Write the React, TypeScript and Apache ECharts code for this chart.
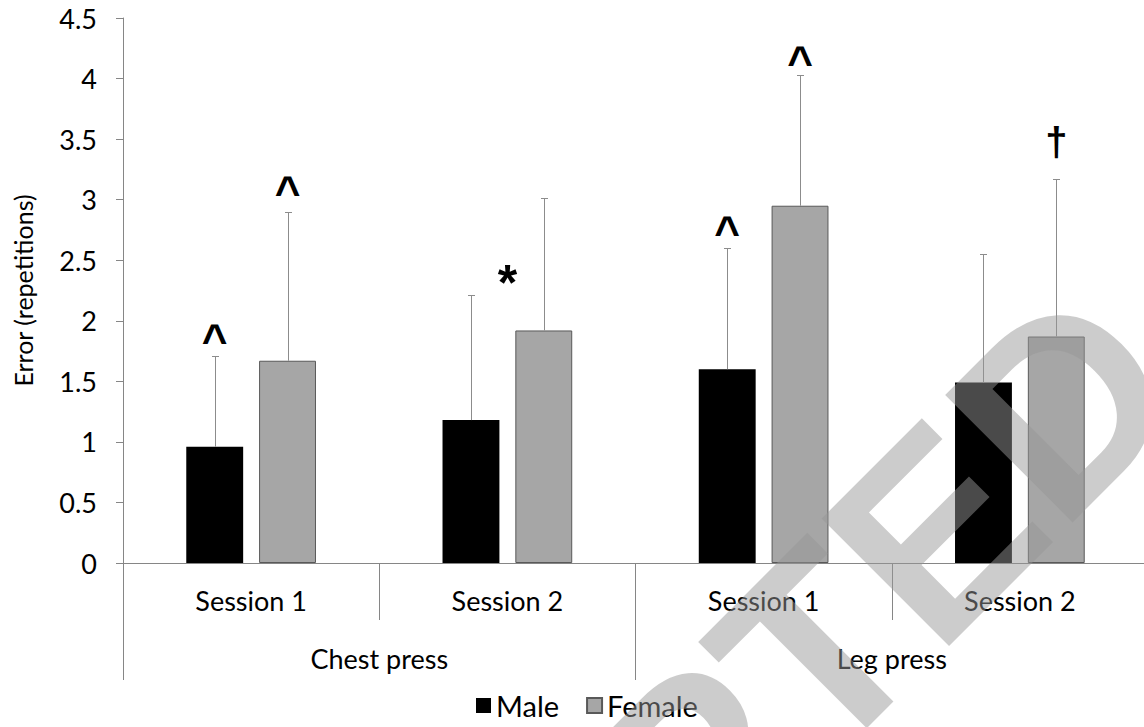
import React, { useEffect, useRef } from "react";
import * as echarts from "echarts";

// ---- data ----
const sessions = ["Session 1", "Session 2", "Session 1", "Session 2"];
const exercises = ["Chest press", "Leg press"];
const seriesNames = ["Male", "Female"];
const maleMean = [0.96, 1.18, 1.6, 1.49];
const maleSD = [0.75, 1.03, 1.0, 1.06];
const femaleMean = [1.67, 1.92, 2.95, 1.87];
const femaleSD = [1.23, 1.09, 1.08, 1.3];
const yMin = 0;
const yMax = 4.5;
const yStep = 0.5;
// significance marks: category, side (-1 male, 1 female, 0 centre), value, text
const markCategory = [0, 0, 1, 2, 2, 3];
const markSide = [-1, 1, 0, -1, 1, 1];
const markValue = [1.91, 3.13, 2.39, 2.8, 4.21, 3.46];
const markText = ["^", "^", "*", "^", "^", "\u2020"];
const watermarkText = "ACCEPTED";

const FONT = "Lato";
const BAR_W = 0.222;
const BAR_GAP = 0.28;
const OFFSET = (BAR_W * (1 + BAR_GAP)) / 2;

export default function App() {
  const ref = useRef<HTMLDivElement>(null);
  useEffect(() => {
    document.body.style.margin = "0";
    const chart = echarts.init(ref.current!, null, { renderer: "svg" });
    const errData: number[][] = [];
    maleMean.forEach((m, i) => errData.push([i, m, m + maleSD[i], -1]));
    femaleMean.forEach((m, i) => errData.push([i, m, m + femaleSD[i], 1]));
    const markData = markCategory.map((c, i) => [c, markValue[i], markSide[i]]);
    const axisGray = "#868686";

    chart.setOption({
      animation: false,
      grid: { left: 123, top: 18, width: 1025, height: 545, containLabel: false, outerBoundsMode: "none" },
      legend: {
        data: seriesNames,
        left: 471,
        top: 686,
        icon: "rect",
        itemWidth: 15,
        itemHeight: 15,
        itemGap: 27,
        textStyle: { fontFamily: FONT, fontSize: 29, color: "#000" },
      },
      xAxis: [
        {
          type: "category",
          data: sessions,
          position: "bottom",
          axisLine: { show: true, lineStyle: { color: axisGray, width: 1 } },
          axisTick: { show: true, interval: 0, length: 57, lineStyle: { color: axisGray } },
          axisLabel: { interval: 0, margin: 24, fontFamily: FONT, fontSize: 27, color: "#000" },
        },
        {
          type: "category",
          data: exercises,
          position: "bottom",
          axisLine: { show: false },
          axisTick: { show: true, interval: 0, length: 117, lineStyle: { color: axisGray } },
          axisLabel: { interval: 0, margin: 82, fontFamily: FONT, fontSize: 27, color: "#000" },
        },
      ],
      yAxis: {
        type: "value",
        min: yMin,
        max: yMax,
        interval: yStep,
        name: "Error (repetitions)",
        nameLocation: "middle",
        nameGap: 88,
        nameTextStyle: { fontFamily: FONT, fontSize: 25, color: "#000" },
        axisLine: { show: true, lineStyle: { color: axisGray } },
        axisTick: { show: true, length: 7, lineStyle: { color: axisGray } },
        splitLine: { show: false },
        axisLabel: { margin: 26, fontFamily: FONT, fontSize: 27, color: "#000" },
      },
      series: [
        {
          name: seriesNames[0],
          type: "bar",
          data: maleMean,
          barWidth: BAR_W * 100 + "%",
          barGap: BAR_GAP * 100 + "%",
          itemStyle: { color: "#000000" },
        },
        {
          name: seriesNames[1],
          type: "bar",
          data: femaleMean,
          barWidth: BAR_W * 100 + "%",
          barGap: BAR_GAP * 100 + "%",
          itemStyle: { color: "#a6a6a6", borderColor: "#595959", borderWidth: 1 },
        },
        {
          type: "custom",
          name: "err",
          data: errData,
          encode: { x: 0, y: [1, 2] },
          z: 3,
          renderItem: (params: any, api: any) => {
            const cat = api.value(0);
            const side = api.value(3);
            const s = api.coord([cat, api.value(1)]);
            const e = api.coord([cat, api.value(2)]);
            const bw = api.size([1, 0])[0];
            const x = Math.round(s[0] + side * bw * OFFSET) + 0.5;
            const y1 = Math.round(e[1]) + 0.5;
            return {
              type: "group",
              children: [
                { type: "line", shape: { x1: x, y1: s[1], x2: x, y2: y1 }, style: { stroke: "#8c8c8c", lineWidth: 1 } },
                { type: "line", shape: { x1: x - 3.5, y1: y1, x2: x + 3.5, y2: y1 }, style: { stroke: "#8c8c8c", lineWidth: 1 } },
              ],
            };
          },
        },
        {
          type: "custom",
          name: "marks",
          data: markData,
          encode: { x: 0, y: 1 },
          z: 4,
          renderItem: (params: any, api: any) => {
            const cat = api.value(0);
            const side = api.value(2);
            const p = api.coord([cat, api.value(1)]);
            const bw = api.size([1, 0])[0];
            const txt = markText[params.dataIndex];
            let font = 'bold 44px "Liberation Sans"';
            let dy = 8;
            if (txt === "*") { font = 'bold 50px "Liberation Sans"'; dy = 9; }
            if (txt === "\u2020") { font = 'bold 40px "Liberation Sans"'; dy = -2; }
            return {
              type: "text",
              x: p[0] + side * bw * OFFSET,
              y: p[1] + dy,
              style: { text: txt, font, fill: "#000", align: "center", verticalAlign: "middle" },
            };
          },
        },
      ],
      graphic: [
        {
          type: "text",
          x: 1130,
          y: 337,
          rotation: Math.PI / 4,
          silent: true,
          z: 100,
          style: {
            text: watermarkText,
            font: 'bold 262px "Liberation Sans"',
            fill: "rgba(151,151,151,0.49)",
            align: "right",
            verticalAlign: "middle",
          },
        },
      ],
    });
    return () => chart.dispose();
  }, []);
  return <div ref={ref} style={{ width: 1144, height: 727 }} />;
}
